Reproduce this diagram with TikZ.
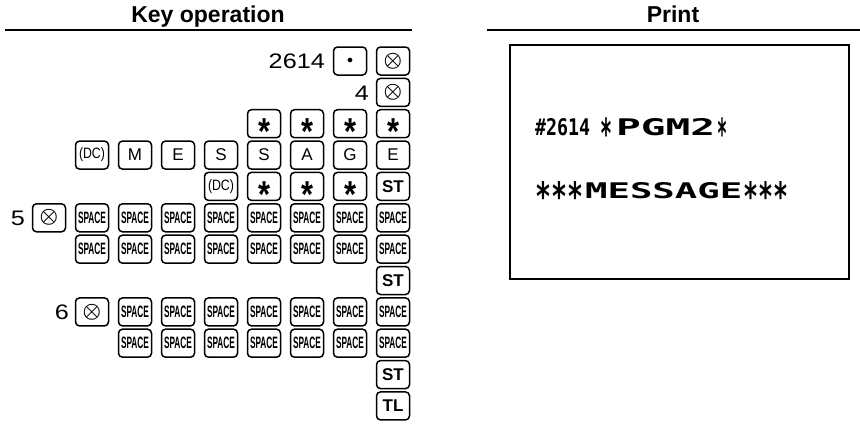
\documentclass[tikz,border=0pt]{standalone}
\usepackage{fontspec}
\setmainfont{Liberation Sans}
\newfontfamily\prfont{DejaVu Sans Mono}
\usepackage{graphicx}
\newcommand\kast{\resizebox{12pt}{12pt}{\bfseries\raisebox{-0.40em}[0.32em][0pt]{*}}}
\newcommand\past{\raisebox{-0.32em}[0.41em][0pt]{*}}
\newcommand\spc{\resizebox{28pt}{11.5pt}{\bfseries SPACE}}
\newcommand\dc{\resizebox*{26pt}{14pt}{(DC)}}
\newcommand\otl{{\fontsize{20}{20}\selectfont$\boldsymbol{\otimes}$}}
\newcommand\dotl{{\fontsize{13}{13}\selectfont$\bullet$}}
\usepackage{amsmath}
\begin{document}
\begin{tikzpicture}[x=1pt,y=-1pt,
  key/.style={draw, line width=1.5pt, rounded corners=4pt, minimum width=33pt,
    minimum height=28pt, inner sep=0pt, font=\fontsize{17}{17}\selectfont},
  keyb/.style={key, font=\fontsize{17}{17}\selectfont\bfseries},
  num/.style={inner sep=0pt, anchor=base east, font=\fontsize{21}{21}\selectfont},
  hdr/.style={inner sep=0pt, anchor=base, font=\fontsize{23}{23}\selectfont\bfseries},
  rule/.style={line width=1.8pt},
  prt/.style={inner sep=0pt, anchor=base west, font=\prfont\bfseries\fontsize{20}{20}\selectfont}]
\useasboundingbox (0,0) rectangle (860,431);
% column and row positions
\def\cz{49}\def\ca{92}\def\cb{135}\def\cc{178}\def\cd{221}\def\ce{264}\def\cf{307}\def\cg{350}\def\ch{393}
\def\ra{61}\def\rb{92.4}\def\rc{123.7}\def\rd{155.1}\def\re{186.4}\def\rf{217.8}
\def\rg{249.2}\def\rh{280.5}\def\ri{311.9}\def\rj{343.2}\def\rk{374.6}\def\rl{405.9}
% headers
\node[hdr] (h1) at (208,22) {Key operation};
\coordinate (l1a) at (5,30); \coordinate (l1b) at (412,30);
\draw[rule] (l1a) -- (l1b);
\node[hdr] (h2) at (673,22) {Print};
\coordinate (l2a) at (487,30); \coordinate (l2b) at (860,30);
\draw[rule] (l2a) -- (l2b);
% row 1
\node[num] (n2614) at (325,68.5) {\scalebox{1.2}[1]{2614}};
\node[key] (k1g) at (\cg,\ra) {\dotl};
\node[key] (k1h) at (\ch,\ra) {\otl};
% row 2
\node[num] (n4) at (369,100) {\scalebox{1.2}[1]{4}};
\node[key] (k2h) at (\ch,\rb) {\otl};
% row 3
\node[key] (k3e) at (\ce,\rc) {\kast};
\node[key] (k3f) at (\cf,\rc) {\kast};
\node[key] (k3g) at (\cg,\rc) {\kast};
\node[key] (k3h) at (\ch,\rc) {\kast};
% row 4
\node[key] (k4a) at (\ca,\rd) {\dc};
\node[key] (k4b) at (\cb,\rd) {M};
\node[key] (k4c) at (\cc,\rd) {E};
\node[key] (k4d) at (\cd,\rd) {S};
\node[key] (k4e) at (\ce,\rd) {S};
\node[key] (k4f) at (\cf,\rd) {A};
\node[key] (k4g) at (\cg,\rd) {G};
\node[key] (k4h) at (\ch,\rd) {E};
% row 5
\node[key] (k5d) at (\cd,\re) {\dc};
\node[key] (k5e) at (\ce,\re) {\kast};
\node[key] (k5f) at (\cf,\re) {\kast};
\node[key] (k5g) at (\cg,\re) {\kast};
\node[keyb] (k5h) at (\ch,\re) {ST};
% row 6
\node[num] (n5) at (25,\rf+7.5) {\scalebox{1.2}[1]{5}};
\node[key] (k6z) at (\cz,\rf) {\otl};
\foreach \c/\n in {\ca/a,\cb/b,\cc/c,\cd/d,\ce/e,\cf/f,\cg/g,\ch/h}
  \node[key] (k6\n) at (\c,\rf) {\spc};
% row 7
\foreach \c/\n in {\ca/a,\cb/b,\cc/c,\cd/d,\ce/e,\cf/f,\cg/g,\ch/h}
  \node[key] (k7\n) at (\c,\rg) {\spc};
% row 8
\node[keyb] (k8h) at (\ch,\rh) {ST};
% row 9
\node[num] (n6) at (69,\ri+7.5) {\scalebox{1.2}[1]{6}};
\node[key] (k9a) at (\ca,\ri) {\otl};
\foreach \c/\n in {\cb/b,\cc/c,\cd/d,\ce/e,\cf/f,\cg/g,\ch/h}
  \node[key] (k9\n) at (\c,\ri) {\spc};
% row 10
\foreach \c/\n in {\cb/b,\cc/c,\cd/d,\ce/e,\cf/f,\cg/g,\ch/h}
  \node[key] (k10\n) at (\c,\rj) {\spc};
% row 11, 12
\node[keyb] (k11h) at (\ch,\rk) {ST};
\node[keyb] (k12h) at (\ch,\rl) {TL};
% print box
\node[draw, line width=1.6pt, minimum width=339pt, minimum height=234pt, inner sep=0pt]
  (pbox) at (679.5,162) {};
\node[prt] (p1) at (535,135) {\resizebox{55pt}{17pt}{\#2614}\hspace{10pt}%
  \resizebox{12pt}{17pt}{\past}\hspace{4pt}\resizebox{99pt}{17pt}{PGM2}\hspace{2pt}%
  \resizebox{10pt}{17pt}{\past}};
\node[prt] (p2) at (535,198) {\resizebox{48pt}{16pt}{\past\past\past}\hspace{2pt}%
  \resizebox{157pt}{16pt}{MESSAGE}\hspace{1pt}\resizebox{45pt}{16pt}{\past\past\past}};
\end{tikzpicture}
\end{document}
